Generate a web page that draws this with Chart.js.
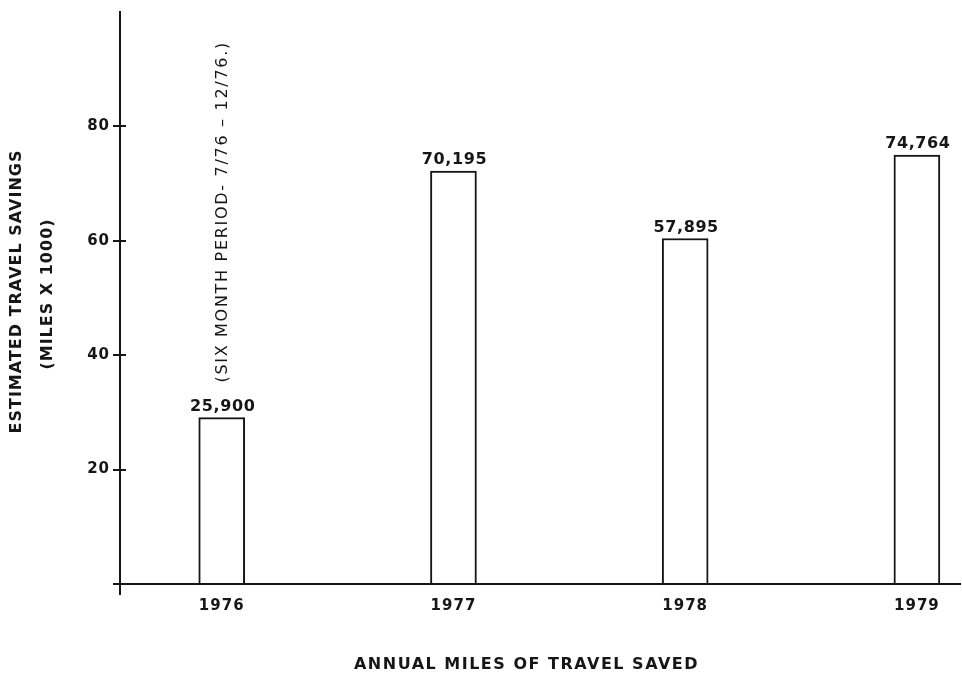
<!DOCTYPE html>
<html><head><meta charset="utf-8">
<script src="https://cdn.jsdelivr.net/npm/chart.js@4/dist/chart.umd.min.js"></script>
<style>html,body{margin:0;padding:0;background:#fff;} #wrap{width:962px;height:677px;position:relative;background:#fff}</style>
</head><body><div id="wrap"><canvas id="c" width="962" height="677"></canvas></div>
<script>
// ---- data ----
const years = [1976, 1977, 1978, 1979];
const yearLabels = ['1976', '1977', '1978', '1979'];
const barHeights = [29.1, 72.2, 60.4, 75.0];          // drawn bar heights (miles x 1000)
const valueLabels = ['25,900', '70,195', '57,895', '74,764'];
const yTicks = [0, 20, 40, 60, 80];
const yTitleLines = ['ESTIMATED TRAVEL SAVINGS', '(MILES X 1000)'];
const xTitle = 'ANNUAL MILES OF TRAVEL SAVED';
const noteText = '(SIX MONTH PERIOD- 7/76 \u2013 12/76.)';
const noteBarIndex = 0;

const INK = '#161616';
const FONT = 'DejaVu Sans';

const decor = {
  id: 'decor',
  beforeDraw(chart) {
    chart.ctx.letterSpacing = '1px';
  },
  afterDraw(chart) {
    const ctx = chart.ctx;
    const ca = chart.chartArea;
    const ys = chart.scales.y;
    ctx.save();
    ctx.strokeStyle = INK;
    ctx.lineWidth = 2;
    // inward halves of the y tick crosses
    yTicks.forEach(v => {
      if (v === 0) return;
      const py = Math.round(ys.getPixelForValue(v));
      ctx.beginPath(); ctx.moveTo(ca.left, py); ctx.lineTo(ca.left + 6, py); ctx.stroke();
    });
    // y axis runs a little below the x axis
    ctx.beginPath(); ctx.moveTo(ca.left, ca.bottom); ctx.lineTo(ca.left, ca.bottom + 11); ctx.stroke();

    ctx.fillStyle = INK;
    // value labels above bars
    const meta = chart.getDatasetMeta(0);
    ctx.font = `bold 16px "${FONT}"`;
    ctx.letterSpacing = '0.6px';
    ctx.textAlign = 'center';
    ctx.textBaseline = 'alphabetic';
    meta.data.forEach((el, i) => {
      ctx.fillText(valueLabels[i], el.x + 1, el.y - 7);
    });
    // rotated note above first bar
    const nb = meta.data[noteBarIndex];
    ctx.save();
    ctx.translate(nb.x + 1, nb.y - 35);
    ctx.rotate(-Math.PI / 2);
    ctx.textAlign = 'left';
    ctx.textBaseline = 'middle';
    ctx.font = `16px "${FONT}"`;
    ctx.letterSpacing = '1.7px';
    ctx.fillText(noteText, 0, 0);
    ctx.restore();

    // y axis title (two lines)
    ctx.save();
    ctx.translate(16.5, 291.5);
    ctx.rotate(-Math.PI / 2);
    ctx.textAlign = 'center'; ctx.textBaseline = 'middle';
    ctx.font = `bold 16px "${FONT}"`;
    ctx.letterSpacing = '1px';
    ctx.fillText(yTitleLines[0], 0, 0);
    ctx.restore();
    ctx.save();
    ctx.translate(47.5, 294);
    ctx.rotate(-Math.PI / 2);
    ctx.textAlign = 'center'; ctx.textBaseline = 'middle';
    ctx.font = `bold 16px "${FONT}"`;
    ctx.letterSpacing = '1px';
    ctx.fillText(yTitleLines[1], 0, 0);
    ctx.restore();

    // x axis title
    ctx.textAlign = 'center'; ctx.textBaseline = 'middle';
    ctx.font = `bold 16px "${FONT}"`;
    ctx.letterSpacing = '1.5px';
    ctx.fillText(xTitle, 526.5, 665);
    ctx.restore();
  }
};

new Chart(document.getElementById('c'), {
  type: 'bar',
  data: {
    datasets: [{
      data: years.map((y, i) => ({ x: y, y: barHeights[i] })),
      backgroundColor: '#ffffff',
      borderColor: INK,
      borderWidth: 2,
      borderSkipped: 'start',
      barThickness: 46
    }]
  },
  options: {
    responsive: false,
    devicePixelRatio: 1,
    animation: false,
    layout: { padding: { top: 10, right: 2, left: 0, bottom: 0 } },
    plugins: { legend: { display: false }, tooltip: { enabled: false }, title: { display: false } },
    scales: {
      x: {
        type: 'linear',
        offset: false,
        min: 1975.561,
        max: 1979.186,
        afterBuildTicks: s => { s.ticks = years.map(v => ({ value: v })); },
        afterFit: s => { s.height = 93; },
        grid: { display: false, drawTicks: false, offset: false },
        border: { display: true, color: INK, width: 2 },
        ticks: {
          autoSkip: false, maxRotation: 0, padding: 13, color: INK,
          font: { family: FONT, size: 15, weight: 'bold' },
          callback: v => { const i = years.indexOf(v); return i >= 0 ? yearLabels[i] : ''; }
        }
      },
      y: {
        min: 0, max: 100,
        afterBuildTicks: s => { s.ticks = yTicks.map(v => ({ value: v })); },
        afterFit: s => { s.width = 120; },
        grid: { drawOnChartArea: false, drawTicks: true, tickLength: 7, color: INK, lineWidth: 2 },
        border: { display: true, color: INK, width: 2 },
        ticks: {
          padding: 3, color: INK,
          font: { family: FONT, size: 15, weight: 'bold' },
          callback: v => v === 0 ? '' : String(v)
        }
      }
    }
  },
  plugins: [decor]
});
</script>
</body></html>
